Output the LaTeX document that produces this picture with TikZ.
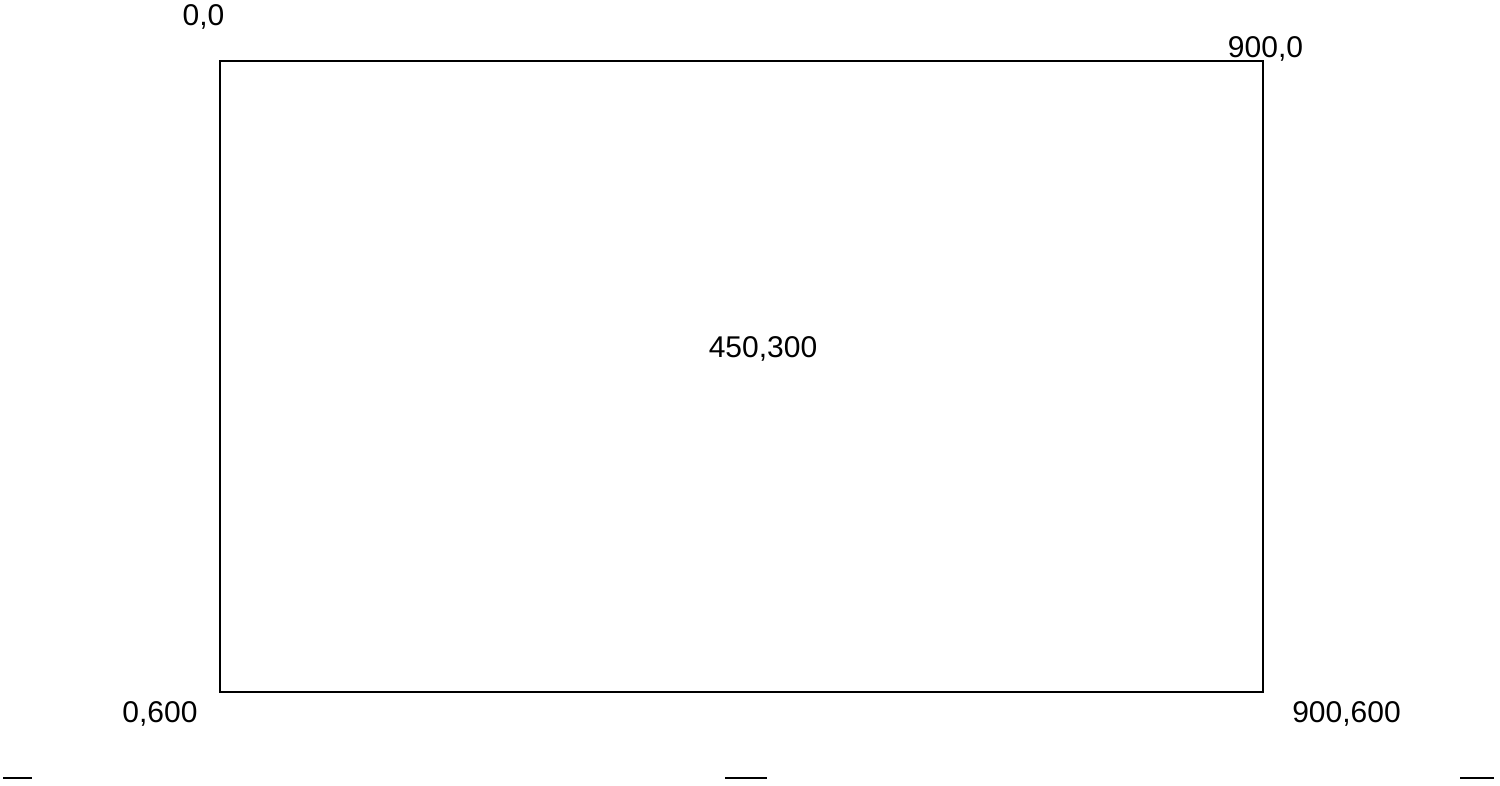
\documentclass[tikz,border=0pt]{standalone}
\usepackage{fontspec}
\setmainfont{Liberation Sans}
\begin{document}
\begin{tikzpicture}[x=1pt,y=-1pt,
  lbl/.style={anchor=base,inner sep=0pt,font=\fontsize{30}{30}\selectfont},
  frame/.style={draw=black,line width=2.4pt},
  tick/.style={draw=black,line width=2.4pt}]
\useasboundingbox (0,0) rectangle (1500,785);
\coordinate (tl) at (220,61);
\coordinate (br) at (1263,692);
\draw[frame] (tl) rectangle (br);
\node[lbl] (l00) at (203.5,25) {0,0};
\node[lbl] (l900) at (1265.5,57) {900,0};
\node[lbl] (lc) at (763,357) {450,300};
\node[lbl] (l0600) at (160,722) {0,600};
\node[lbl] (l900600) at (1346.5,722) {900,600};
\coordinate (d1a) at (3,778); \coordinate (d1b) at (32,778);
\coordinate (d2a) at (725,778); \coordinate (d2b) at (767,778);
\coordinate (d3a) at (1460,778); \coordinate (d3b) at (1494,778);
\draw[tick] (d1a) -- (d1b);
\draw[tick] (d2a) -- (d2b);
\draw[tick] (d3a) -- (d3b);
\end{tikzpicture}
\end{document}
